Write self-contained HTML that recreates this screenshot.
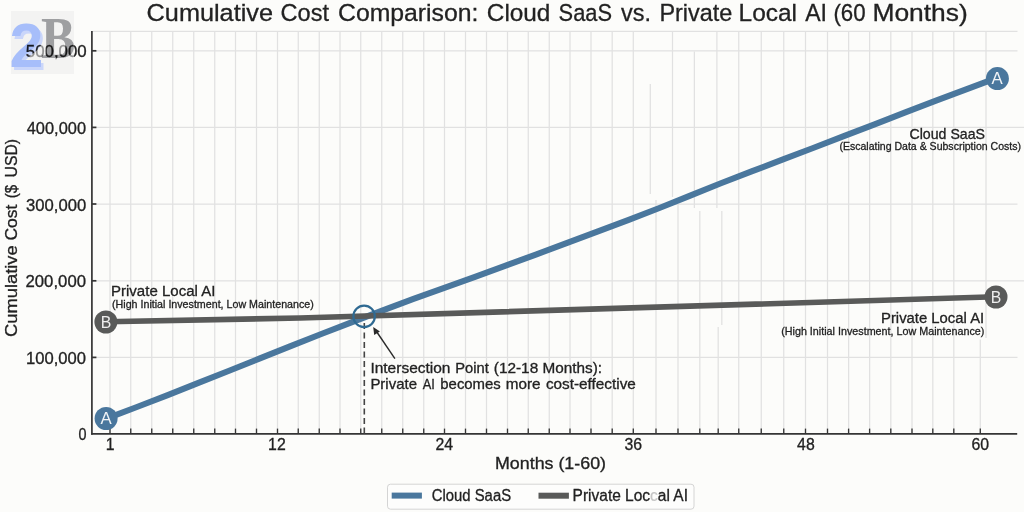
<!DOCTYPE html><html><head><meta charset="utf-8"><style>html,body{margin:0;padding:0;background:#fcfcfa;}svg{display:block;}text{font-family:"Liberation Sans",sans-serif;}</style></head><body>
<svg width="1024" height="512" viewBox="0 0 1024 512">
<rect width="1024" height="512" fill="#fcfcfa"/>
<g>
<g stroke="#e1e1e1" stroke-width="1.25" fill="none">
<line x1="110.00" y1="31.30" x2="110.00" y2="433.90"/>
<line x1="130.75" y1="31.30" x2="130.75" y2="433.90"/>
<line x1="151.75" y1="31.30" x2="151.75" y2="433.90"/>
<line x1="172.75" y1="31.30" x2="172.75" y2="433.90"/>
<line x1="193.75" y1="31.30" x2="193.75" y2="433.90"/>
<line x1="214.75" y1="31.30" x2="214.75" y2="433.90"/>
<line x1="235.50" y1="31.30" x2="235.50" y2="433.90"/>
<line x1="256.50" y1="31.30" x2="256.50" y2="433.90"/>
<line x1="277.50" y1="31.30" x2="277.50" y2="433.90"/>
<line x1="298.25" y1="31.30" x2="298.25" y2="433.90"/>
<line x1="319.25" y1="31.30" x2="319.25" y2="433.90"/>
<line x1="340.00" y1="31.30" x2="340.00" y2="433.90"/>
<line x1="360.75" y1="31.30" x2="360.75" y2="433.90"/>
<line x1="381.75" y1="31.30" x2="381.75" y2="433.90"/>
<line x1="402.75" y1="31.30" x2="402.75" y2="433.90"/>
<line x1="423.75" y1="31.30" x2="423.75" y2="433.90"/>
<line x1="444.50" y1="31.30" x2="444.50" y2="433.90"/>
<line x1="465.50" y1="31.30" x2="465.50" y2="433.90"/>
<line x1="486.50" y1="31.30" x2="486.50" y2="433.90"/>
<line x1="507.50" y1="31.30" x2="507.50" y2="433.90"/>
<line x1="528.25" y1="31.30" x2="528.25" y2="433.90"/>
<line x1="549.25" y1="31.30" x2="549.25" y2="433.90"/>
<line x1="570.00" y1="31.30" x2="570.00" y2="433.90"/>
<line x1="591.00" y1="31.30" x2="591.00" y2="433.90"/>
<line x1="612.20" y1="31.30" x2="612.20" y2="433.90"/>
<line x1="633.30" y1="31.30" x2="633.30" y2="433.90"/>
<line x1="738.75" y1="31.30" x2="738.75" y2="433.90"/>
<line x1="761.25" y1="31.30" x2="761.25" y2="433.90"/>
<line x1="783.75" y1="31.30" x2="783.75" y2="433.90"/>
<line x1="805.50" y1="31.30" x2="805.50" y2="433.90"/>
<line x1="827.50" y1="31.30" x2="827.50" y2="433.90"/>
<line x1="848.60" y1="31.30" x2="848.60" y2="433.90"/>
<line x1="869.60" y1="31.30" x2="869.60" y2="433.90"/>
<line x1="890.80" y1="31.30" x2="890.80" y2="433.90"/>
<line x1="912.00" y1="31.30" x2="912.00" y2="433.90"/>
<line x1="932.80" y1="31.30" x2="932.80" y2="433.90"/>
<line x1="953.80" y1="31.30" x2="953.80" y2="433.90"/>
<line x1="650.30" y1="84.00" x2="650.30" y2="194.00"/>
<line x1="656.00" y1="200.00" x2="656.00" y2="433.90"/>
<line x1="672.50" y1="31.30" x2="672.50" y2="197.00"/>
<line x1="678.00" y1="204.00" x2="678.00" y2="433.90"/>
<line x1="694.40" y1="51.50" x2="694.40" y2="208.00"/>
<line x1="699.80" y1="211.00" x2="699.80" y2="433.90"/>
<line x1="716.90" y1="31.30" x2="716.90" y2="208.00"/>
<line x1="721.80" y1="211.00" x2="721.80" y2="325.00"/>
<line x1="718.20" y1="327.00" x2="718.20" y2="433.90"/>
<line x1="986.00" y1="31.30" x2="986.00" y2="338.00"/>
<line x1="980.30" y1="339.50" x2="980.30" y2="433.90"/>
<line x1="92.5" y1="31.30" x2="1017.5" y2="31.30"/>
<line x1="92.5" y1="50.80" x2="1017.5" y2="50.80"/>
<line x1="92.5" y1="127.40" x2="1024.0" y2="127.40"/>
<line x1="92.5" y1="204.00" x2="1017.5" y2="204.00"/>
<line x1="92.5" y1="280.80" x2="1024.0" y2="280.80"/>
<line x1="92.5" y1="357.40" x2="1017.5" y2="357.40"/>
</g>
<g stroke="#353535" stroke-width="1.7" fill="none">
<line x1="91.9" y1="30.9" x2="91.9" y2="434.7"/>
<line x1="91.1" y1="433.9" x2="1017.2" y2="433.9"/>
<line x1="92" y1="50.80" x2="96.4" y2="50.80"/>
<line x1="92" y1="127.40" x2="96.4" y2="127.40"/>
<line x1="92" y1="204.00" x2="96.4" y2="204.00"/>
<line x1="92" y1="280.80" x2="96.4" y2="280.80"/>
<line x1="92" y1="357.40" x2="96.4" y2="357.40"/>
<line x1="110.00" y1="433.5" x2="110.00" y2="428.6" stroke-width="1.35"/>
<line x1="130.75" y1="433.5" x2="130.75" y2="428.6" stroke-width="1.35"/>
<line x1="151.75" y1="433.5" x2="151.75" y2="428.6" stroke-width="1.35"/>
<line x1="172.75" y1="433.5" x2="172.75" y2="428.6" stroke-width="1.35"/>
<line x1="193.75" y1="433.5" x2="193.75" y2="428.6" stroke-width="1.35"/>
<line x1="214.75" y1="433.5" x2="214.75" y2="428.6" stroke-width="1.35"/>
<line x1="235.50" y1="433.5" x2="235.50" y2="428.6" stroke-width="1.35"/>
<line x1="256.50" y1="433.5" x2="256.50" y2="428.6" stroke-width="1.35"/>
<line x1="277.50" y1="433.5" x2="277.50" y2="428.6" stroke-width="1.35"/>
<line x1="298.25" y1="433.5" x2="298.25" y2="428.6" stroke-width="1.35"/>
<line x1="319.25" y1="433.5" x2="319.25" y2="428.6" stroke-width="1.35"/>
<line x1="340.00" y1="433.5" x2="340.00" y2="428.6" stroke-width="1.35"/>
<line x1="360.75" y1="433.5" x2="360.75" y2="428.6" stroke-width="1.35"/>
<line x1="381.75" y1="433.5" x2="381.75" y2="428.6" stroke-width="1.35"/>
<line x1="402.75" y1="433.5" x2="402.75" y2="428.6" stroke-width="1.35"/>
<line x1="423.75" y1="433.5" x2="423.75" y2="428.6" stroke-width="1.35"/>
<line x1="444.50" y1="433.5" x2="444.50" y2="428.6" stroke-width="1.35"/>
<line x1="465.50" y1="433.5" x2="465.50" y2="428.6" stroke-width="1.35"/>
<line x1="486.50" y1="433.5" x2="486.50" y2="428.6" stroke-width="1.35"/>
<line x1="507.50" y1="433.5" x2="507.50" y2="428.6" stroke-width="1.35"/>
<line x1="528.25" y1="433.5" x2="528.25" y2="428.6" stroke-width="1.35"/>
<line x1="549.25" y1="433.5" x2="549.25" y2="428.6" stroke-width="1.35"/>
<line x1="570.00" y1="433.5" x2="570.00" y2="428.6" stroke-width="1.35"/>
<line x1="591.00" y1="433.5" x2="591.00" y2="428.6" stroke-width="1.35"/>
<line x1="612.20" y1="433.5" x2="612.20" y2="428.6" stroke-width="1.35"/>
<line x1="633.30" y1="433.5" x2="633.30" y2="428.6" stroke-width="1.35"/>
<line x1="738.75" y1="433.5" x2="738.75" y2="428.6" stroke-width="1.35"/>
<line x1="761.25" y1="433.5" x2="761.25" y2="428.6" stroke-width="1.35"/>
<line x1="783.75" y1="433.5" x2="783.75" y2="428.6" stroke-width="1.35"/>
<line x1="805.50" y1="433.5" x2="805.50" y2="428.6" stroke-width="1.35"/>
<line x1="827.50" y1="433.5" x2="827.50" y2="428.6" stroke-width="1.35"/>
<line x1="848.60" y1="433.5" x2="848.60" y2="428.6" stroke-width="1.35"/>
<line x1="869.60" y1="433.5" x2="869.60" y2="428.6" stroke-width="1.35"/>
<line x1="890.80" y1="433.5" x2="890.80" y2="428.6" stroke-width="1.35"/>
<line x1="912.00" y1="433.5" x2="912.00" y2="428.6" stroke-width="1.35"/>
<line x1="932.80" y1="433.5" x2="932.80" y2="428.6" stroke-width="1.35"/>
<line x1="953.80" y1="433.5" x2="953.80" y2="428.6" stroke-width="1.35"/>
<line x1="656.00" y1="433.5" x2="656.00" y2="428.6" stroke-width="1.35"/>
<line x1="678.00" y1="433.5" x2="678.00" y2="428.6" stroke-width="1.35"/>
<line x1="699.80" y1="433.5" x2="699.80" y2="428.6" stroke-width="1.35"/>
<line x1="718.20" y1="433.5" x2="718.20" y2="428.6" stroke-width="1.35"/>
<line x1="980.30" y1="433.5" x2="980.30" y2="428.6" stroke-width="1.35"/>
</g>
<line x1="364.3" y1="323" x2="364.3" y2="433.5" stroke="#444" stroke-width="1.6" stroke-dasharray="6 3.5"/>
<polyline points="106.2,418.60 136.9,406.98 167.7,395.08 198.4,382.96 229.1,370.71 259.9,358.42 290.6,346.16 321.3,334.02 352.1,322.07 382.8,310.36 413.5,298.97 444.3,287.84 475.0,276.80 505.7,265.66 536.5,254.31 567.2,242.84 598.0,231.34 628.7,219.84 659.4,207.99 690.2,195.57 720.9,183.29 751.6,171.40 782.4,159.70 813.1,147.99 843.8,136.18 874.6,124.32 905.3,112.47 936.0,100.69 966.8,89.04 997.5,77.57" fill="none" stroke="#4a779d" stroke-width="6.1" stroke-linejoin="round"/>
<polyline points="106,321.7 300,318 996,296.8" fill="none" stroke="#595a59" stroke-width="5.6" stroke-linejoin="round"/>
<circle cx="364.1" cy="316.4" r="10.7" fill="none" stroke="#2f6a92" stroke-width="2.2"/>
<line x1="394.9" y1="358.7" x2="376.5" y2="331.5" stroke="#2a2a2a" stroke-width="1.4"/>
<polygon points="373.2,327.1 374.2,334.9 379.9,331.4" fill="#2a2a2a"/>
<circle cx="106.10" cy="418.50" r="11.5" fill="#4a779d"/>
<circle cx="997.40" cy="78.60" r="11.5" fill="#4a779d"/>
<circle cx="105.90" cy="322.00" r="11.5" fill="#595a59"/>
<circle cx="996.00" cy="297.00" r="11.5" fill="#595a59"/>
<rect x="387.5" y="484.2" width="306.5" height="25" rx="3" fill="#fdfdfc" stroke="#d4d4d4" stroke-width="1"/>
<rect x="391.7" y="492.6" width="30.2" height="6" fill="#4a779d"/>
<rect x="538.5" y="492.7" width="30.4" height="6" fill="#595a59"/>
</g>
<text id="tw0" x="146.60" y="21.30" font-size="24.30" fill="#222222" text-anchor="start" stroke="#222222" stroke-width="0.30" textLength="126.40" lengthAdjust="spacingAndGlyphs">Cumulative</text>
<text id="tw1" x="280.60" y="21.30" font-size="24.30" fill="#222222" text-anchor="start" stroke="#222222" stroke-width="0.30" textLength="48.40" lengthAdjust="spacingAndGlyphs">Cost</text>
<text id="tw2" x="338.00" y="21.30" font-size="24.30" fill="#222222" text-anchor="start" stroke="#222222" stroke-width="0.30" textLength="140.40" lengthAdjust="spacingAndGlyphs">Comparison:</text>
<text id="tw3" x="486.80" y="21.30" font-size="24.30" fill="#222222" text-anchor="start" stroke="#222222" stroke-width="0.30" textLength="63.60" lengthAdjust="spacingAndGlyphs">Cloud</text>
<text id="tw4" x="558.60" y="21.30" font-size="24.30" fill="#222222" text-anchor="start" stroke="#222222" stroke-width="0.30" textLength="53.40" lengthAdjust="spacingAndGlyphs">SaaS</text>
<text id="tw5" x="621.00" y="21.30" font-size="24.30" fill="#222222" text-anchor="start" stroke="#222222" stroke-width="0.30" textLength="30.00" lengthAdjust="spacingAndGlyphs">vs.</text>
<text id="tw6" x="659.40" y="21.30" font-size="24.30" fill="#222222" text-anchor="start" stroke="#222222" stroke-width="0.30" textLength="73.00" lengthAdjust="spacingAndGlyphs">Private</text>
<text id="tw7" x="738.60" y="21.30" font-size="24.30" fill="#222222" text-anchor="start" stroke="#222222" stroke-width="0.30" textLength="58.40" lengthAdjust="spacingAndGlyphs">Local</text>
<text id="tw8" x="805.20" y="21.30" font-size="24.30" fill="#222222" text-anchor="start" stroke="#222222" stroke-width="0.30" textLength="21.80" lengthAdjust="spacingAndGlyphs">AI</text>
<text id="tw9" x="833.40" y="21.30" font-size="24.30" fill="#222222" text-anchor="start" stroke="#222222" stroke-width="0.30" textLength="32.20" lengthAdjust="spacingAndGlyphs">(60</text>
<text id="tw10" x="872.40" y="21.30" font-size="24.30" fill="#222222" text-anchor="start" stroke="#222222" stroke-width="0.30" textLength="95.40" lengthAdjust="spacingAndGlyphs">Months)</text>
<text id="yt0" x="25.75" y="57.10" font-size="15.80" fill="#222222" text-anchor="start" stroke="#222222" stroke-width="0.30" textLength="61.00" lengthAdjust="spacingAndGlyphs">500,000</text>
<text id="yt1" x="26.75" y="133.80" font-size="15.80" fill="#222222" text-anchor="start" stroke="#222222" stroke-width="0.30" textLength="59.25" lengthAdjust="spacingAndGlyphs">400,000</text>
<text id="yt2" x="26.00" y="210.80" font-size="15.80" fill="#222222" text-anchor="start" stroke="#222222" stroke-width="0.30" textLength="60.25" lengthAdjust="spacingAndGlyphs">300,000</text>
<text id="yt3" x="25.50" y="287.30" font-size="15.80" fill="#222222" text-anchor="start" stroke="#222222" stroke-width="0.30" textLength="60.50" lengthAdjust="spacingAndGlyphs">200,000</text>
<text id="yt4" x="26.00" y="363.70" font-size="15.80" fill="#222222" text-anchor="start" stroke="#222222" stroke-width="0.30" textLength="60.00" lengthAdjust="spacingAndGlyphs">100,000</text>
<text id="yt5" x="78.50" y="440.10" font-size="15.80" fill="#222222" text-anchor="start" stroke="#222222" stroke-width="0.30" textLength="8.00" lengthAdjust="spacingAndGlyphs">0</text>
<text id="xt0" x="105.70" y="450.30" font-size="15.80" fill="#222222" text-anchor="start" stroke="#222222" stroke-width="0.30" textLength="8.80" lengthAdjust="spacingAndGlyphs">1</text>
<text id="xt1" x="268.10" y="450.30" font-size="15.80" fill="#222222" text-anchor="start" stroke="#222222" stroke-width="0.30" textLength="17.60" lengthAdjust="spacingAndGlyphs">12</text>
<text id="xt2" x="435.40" y="450.30" font-size="15.80" fill="#222222" text-anchor="start" stroke="#222222" stroke-width="0.30" textLength="17.60" lengthAdjust="spacingAndGlyphs">24</text>
<text id="xt3" x="624.50" y="450.30" font-size="15.80" fill="#222222" text-anchor="start" stroke="#222222" stroke-width="0.30" textLength="17.60" lengthAdjust="spacingAndGlyphs">36</text>
<text id="xt4" x="797.10" y="450.30" font-size="15.80" fill="#222222" text-anchor="start" stroke="#222222" stroke-width="0.30" textLength="17.60" lengthAdjust="spacingAndGlyphs">48</text>
<text id="xt5" x="971.50" y="450.30" font-size="15.80" fill="#222222" text-anchor="start" stroke="#222222" stroke-width="0.30" textLength="17.60" lengthAdjust="spacingAndGlyphs">60</text>
<text id="xlabel" x="495.00" y="469.10" font-size="16.20" fill="#222222" text-anchor="start" stroke="#222222" stroke-width="0.30" textLength="111.00" lengthAdjust="spacingAndGlyphs">Months (1-60)</text>
<text id="yl0" x="0.00" y="0.00" font-size="16.00" fill="#222222" text-anchor="start" stroke="#222222" stroke-width="0.30" textLength="91.70" lengthAdjust="spacingAndGlyphs" transform="translate(17.10,337.00) rotate(-90)">Cumulative</text>
<text id="yl1" x="0.00" y="0.00" font-size="16.00" fill="#222222" text-anchor="start" stroke="#222222" stroke-width="0.30" textLength="35.90" lengthAdjust="spacingAndGlyphs" transform="translate(17.10,240.50) rotate(-90)">Cost</text>
<text id="yl2" x="0.00" y="0.00" font-size="16.00" fill="#222222" text-anchor="start" stroke="#222222" stroke-width="0.30" textLength="13.45" lengthAdjust="spacingAndGlyphs" transform="translate(17.10,198.35) rotate(-90)">($</text>
<text id="yl3" x="0.00" y="0.00" font-size="16.00" fill="#222222" text-anchor="start" stroke="#222222" stroke-width="0.30" textLength="38.40" lengthAdjust="spacingAndGlyphs" transform="translate(17.10,177.40) rotate(-90)">USD)</text>
<text id="lbl_pl" x="111.00" y="296.40" font-size="14.70" fill="#222222" text-anchor="start" stroke="#222222" stroke-width="0.30" textLength="104.40" lengthAdjust="spacingAndGlyphs">Private Local AI</text>
<text id="sub_pl" x="112.00" y="307.90" font-size="10.80" fill="#222222" text-anchor="start" stroke="#222222" stroke-width="0.30" textLength="201.80" lengthAdjust="spacingAndGlyphs">(High Initial Investment, Low Maintenance)</text>
<text id="lbl_pr" x="881.00" y="322.90" font-size="14.70" fill="#222222" text-anchor="start" stroke="#222222" stroke-width="0.30" textLength="103.20" lengthAdjust="spacingAndGlyphs">Private Local AI</text>
<text id="sub_pr" x="781.20" y="334.50" font-size="11.20" fill="#222222" text-anchor="start" stroke="#222222" stroke-width="0.30" textLength="203.20" lengthAdjust="spacingAndGlyphs">(High Initial Investment, Low Maintenance)</text>
<text id="lbl_c" x="909.50" y="138.60" font-size="14.40" fill="#222222" text-anchor="start" stroke="#222222" stroke-width="0.30" textLength="75.50" lengthAdjust="spacingAndGlyphs">Cloud SaaS</text>
<text id="sub_c" x="839.40" y="149.80" font-size="10.90" fill="#222222" text-anchor="start" stroke="#222222" stroke-width="0.30" textLength="181.60" lengthAdjust="spacingAndGlyphs">(Escalating Data &amp; Subscription Costs)</text>
<text id="ia0" x="370.40" y="372.50" font-size="14.50" fill="#222222" text-anchor="start" stroke="#222222" stroke-width="0.30" textLength="80.10" lengthAdjust="spacingAndGlyphs">Intersection</text>
<text id="ia1" x="455.30" y="372.50" font-size="14.50" fill="#222222" text-anchor="start" stroke="#222222" stroke-width="0.30" textLength="33.50" lengthAdjust="spacingAndGlyphs">Point</text>
<text id="ia2" x="493.80" y="372.50" font-size="14.50" fill="#222222" text-anchor="start" stroke="#222222" stroke-width="0.30" textLength="44.40" lengthAdjust="spacingAndGlyphs">(12-18</text>
<text id="ia3" x="542.50" y="372.50" font-size="14.50" fill="#222222" text-anchor="start" stroke="#222222" stroke-width="0.30" textLength="59.60" lengthAdjust="spacingAndGlyphs">Months):</text>
<text id="ib0" x="370.40" y="388.60" font-size="14.50" fill="#222222" text-anchor="start" stroke="#222222" stroke-width="0.30" textLength="46.60" lengthAdjust="spacingAndGlyphs">Private</text>
<text id="ib1" x="422.80" y="388.60" font-size="14.50" fill="#222222" text-anchor="start" stroke="#222222" stroke-width="0.30" textLength="12.10" lengthAdjust="spacingAndGlyphs">AI</text>
<text id="ib2" x="440.30" y="388.60" font-size="14.50" fill="#222222" text-anchor="start" stroke="#222222" stroke-width="0.30" textLength="60.50" lengthAdjust="spacingAndGlyphs">becomes</text>
<text id="ib3" x="505.70" y="388.60" font-size="14.50" fill="#222222" text-anchor="start" stroke="#222222" stroke-width="0.30" textLength="34.80" lengthAdjust="spacingAndGlyphs">more</text>
<text id="ib4" x="545.90" y="388.60" font-size="14.50" fill="#222222" text-anchor="start" stroke="#222222" stroke-width="0.30" textLength="90.00" lengthAdjust="spacingAndGlyphs">cost-effective</text>
<text id="leg1" x="431.80" y="500.80" font-size="15.80" fill="#222222" text-anchor="start" stroke="#222222" stroke-width="0.30" textLength="79.25" lengthAdjust="spacingAndGlyphs">Cloud SaaS</text>
<text id="leg2" x="572.60" y="501.00" font-size="15.80" fill="#222222" text-anchor="start" stroke="#222222" stroke-width="0.30" textLength="115.40" lengthAdjust="spacingAndGlyphs">Private Loc<tspan fill="#c4c4c4" stroke="#c4c4c4" stroke-width="0.2">c</tspan>al AI</text>
<text id="mA1" x="106.00" y="424.40" font-size="16.80" fill="#f0f3f6" text-anchor="middle">A</text>
<text id="mA2" x="997.00" y="84.30" font-size="16.80" fill="#f0f3f6" text-anchor="middle">A</text>
<text id="mB1" x="105.90" y="327.80" font-size="15.80" fill="#eeeeee" text-anchor="middle">B</text>
<text id="mB2" x="996.00" y="302.80" font-size="15.80" fill="#eeeeee" text-anchor="middle">B</text>
<g>
<mask id="lm" maskUnits="userSpaceOnUse" x="0" y="0" width="100" height="100"><rect x="11" y="11" width="63" height="63" fill="#fff"/><text transform="translate(12.0,69.6) scale(0.96,1)" font-size="63.5" font-weight="bold" fill="#000" style="font-family:'Liberation Sans',sans-serif">2</text><text transform="translate(9.6,67.2) scale(0.96,1)" font-size="63.5" font-weight="bold" fill="#000" style="font-family:'Liberation Sans',sans-serif">2</text><text transform="translate(41.0,58.3) scale(0.87,1)" font-size="59" font-weight="bold" fill="#000" style="font-family:'Liberation Serif',serif">B</text></mask>
<rect x="11" y="11" width="63" height="63" fill="#ececec" opacity="0.55" mask="url(#lm)"/>
<g style="mix-blend-mode:multiply">
<text transform="translate(12.0,69.6) scale(0.96,1)" font-size="63.5" font-weight="bold" fill="#cdd9ff" style="font-family:'Liberation Sans',sans-serif">2</text>
<text transform="translate(9.6,67.2) scale(0.96,1)" font-size="63.5" font-weight="bold" fill="#a9c1ff" style="font-family:'Liberation Sans',sans-serif">2</text>
<text transform="translate(41.0,58.3) scale(0.87,1)" font-size="59" font-weight="bold" fill="#a0a1a4" style="font-family:'Liberation Serif',serif">B</text>
</g></g>
</svg></body></html>
